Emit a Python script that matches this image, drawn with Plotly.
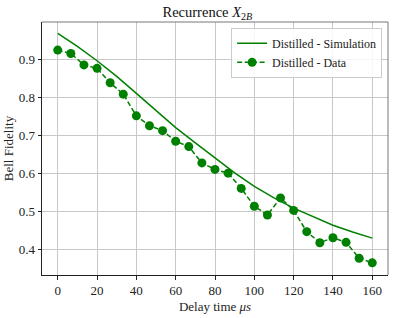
import plotly.graph_objects as go

delay_data = [0, 6.67, 13.33, 20, 26.67, 33.33, 40, 46.67, 53.33, 60, 66.67, 73.33, 80,
              86.67, 93.33, 100, 106.67, 113.33, 120, 126.67, 133.33, 140, 146.67, 153.33, 160]
fidelity_data = [0.924, 0.915, 0.885, 0.876, 0.838, 0.808, 0.751, 0.725, 0.712, 0.684, 0.670,
                 0.627, 0.610, 0.600, 0.560, 0.513, 0.490, 0.535, 0.502, 0.446, 0.417, 0.430,
                 0.418, 0.376, 0.364]

delay_sim = [0, 10, 20, 30, 40, 50, 60, 70, 80, 90, 100, 110, 120, 130, 140, 150, 160]
fidelity_sim = [0.968, 0.934, 0.896, 0.855, 0.810, 0.765, 0.720, 0.680, 0.640, 0.601, 0.565,
                0.535, 0.508, 0.485, 0.463, 0.445, 0.429]

x_ticks = [0, 20, 40, 60, 80, 100, 120, 140, 160]
y_ticks = [0.4, 0.5, 0.6, 0.7, 0.8, 0.9]

green = "#008000"
font = "Liberation Serif"

fig = go.Figure()
fig.add_trace(go.Scatter(x=delay_sim, y=fidelity_sim, mode="lines",
                         line=dict(color=green, width=1.5),
                         name="Distilled - Simulation"))
fig.add_trace(go.Scatter(x=delay_data, y=fidelity_data, mode="lines+markers",
                         line=dict(color=green, width=1.5, dash="5px,2.5px"),
                         marker=dict(color=green, size=9),
                         name="Distilled - Data"))

fig.update_layout(
    width=395, height=318,
    margin=dict(l=42, r=7, t=22, b=38),
    paper_bgcolor="white", plot_bgcolor="white",
    font=dict(family=font, size=13, color="#222"),
    title=dict(text="Recurrence <i>X</i><sub>2<i>B</i></sub>", x=0.525, xanchor="center",
               y=0.962, yanchor="middle", font=dict(size=14.5, color="#111")),
    showlegend=True,
    legend=dict(x=0.983, y=0.977, xanchor="right", yanchor="top",
                bgcolor="rgba(255,255,255,0.85)", bordercolor="#cccccc", borderwidth=1,
                font=dict(size=12), tracegroupgap=0, itemwidth=30),
)
fig.update_xaxes(range=[-8, 168], tickvals=x_ticks, showgrid=True, gridcolor="#c8c8c8",
                 gridwidth=1, zeroline=False, showline=True, linecolor="#222", linewidth=1,
                 ticks="outside", ticklen=3.5, tickcolor="#222",
                 title=dict(text="Delay time <i>μs</i>", standoff=4, font=dict(size=13)))
fig.update_yaxes(range=[0.332, 0.998], tickvals=y_ticks, tickformat=".1f", showgrid=True,
                 gridcolor="#c8c8c8", gridwidth=1, zeroline=False, showline=True,
                 linecolor="#222", linewidth=1, ticks="outside", ticklen=3.5, tickcolor="#222",
                 title=dict(text="Bell Fidelity", standoff=2, font=dict(size=13)))
fig.add_shape(type="line", xref="paper", yref="paper", x0=0, x1=1, y0=1, y1=1,
              line=dict(color="#777", width=1))
fig.add_shape(type="line", xref="paper", yref="paper", x0=1, x1=1, y0=0, y1=1,
              line=dict(color="#777", width=1))

fig.write_html("out.html", config={"displayModeBar": False},
               post_script="document.body.style.margin='0';")
